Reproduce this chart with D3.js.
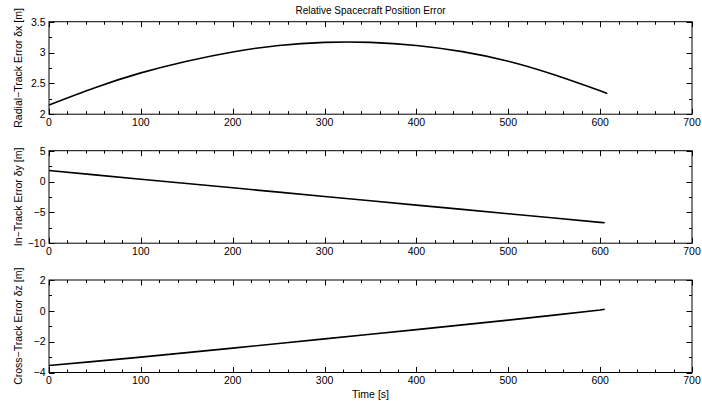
<!DOCTYPE html>
<html>
<head>
<meta charset="utf-8">
<script src="https://cdn.jsdelivr.net/npm/d3@7"></script>
<style>
  html, body { margin: 0; padding: 0; background: #fff; }
  svg { display: block; }
  text { font-family: "Liberation Sans", Arial, Helvetica, sans-serif; fill: #000; }
</style>
</head>
<body>
<svg id="chart" width="702" height="409"></svg>
<script>
// ---- data ----
const time = [0, 50, 100, 150, 200, 250, 300, 350, 400, 450, 500, 550, 600, 605];
const radialError = [2.15, 2.43, 2.67, 2.86, 3.01, 3.115, 3.165, 3.165, 3.115, 3.015, 2.86, 2.64, 2.38, 2.35];
const inTrackError = [1.78, 1.08, 0.38, -0.32, -1.02, -1.72, -2.42, -3.12, -3.82, -4.52, -5.22, -5.92, -6.62, -6.69];
const crossTrackError = [-3.55, -3.28, -3.00, -2.71, -2.42, -2.12, -1.82, -1.52, -1.22, -0.91, -0.60, -0.28, 0.05, 0.10];

const titleText = "Relative Spacecraft Position Error";
const xLabelText = "Time [s]";
const yLabels = ["Radial\u2212Track Error \u03b4x [m]", "In\u2212Track Error \u03b4y [m]", "Cross\u2212Track Error \u03b4z [m]"];
const yDomains = [[2, 3.5], [-10, 5], [-4, 2]];
const yMajorSteps = [0.5, 5, 2];
const yMinorSteps = [0.25, 2.5, 1];
const xDomain = [0, 700];
const xMajorTicks = [0, 100, 200, 300, 400, 500, 600, 700];
const xMinorStep = 20;

// ---- layout ----
const svg = d3.select("#chart");
const left = 49, right = 692;
const panelTops = [21.7, 150.7, 280];
const panelH = 92.5;
const majorLen = 5.5, minorLen = 3;
const fontSize = 10.5;

const x = d3.scaleLinear().domain(xDomain).range([left, right]);
const seriesList = [radialError, inTrackError, crossTrackError];

function rng(a, b, step) {
  const out = [];
  const n = Math.round((b - a) / step);
  for (let i = 0; i <= n; i++) out.push(+(a + i * step).toFixed(6));
  return out;
}
const fmt = v => (v < 0 ? "\u2212" : "") + Math.abs(v).toString();

seriesList.forEach((vals, i) => {
  const top = panelTops[i], bottom = top + panelH;
  const y = d3.scaleLinear().domain(yDomains[i]).range([bottom, top]);
  const g = svg.append("g");

  const xMinor = rng(xDomain[0], xDomain[1], xMinorStep);
  const yMajor = rng(yDomains[i][0], yDomains[i][1], yMajorSteps[i]);
  const yMinor = rng(yDomains[i][0], yDomains[i][1], yMinorSteps[i]);

  const tickG = g.append("g").attr("stroke", "#000").attr("stroke-width", 1);
  xMinor.forEach(t => {
    const len = xMajorTicks.includes(t) ? majorLen : minorLen;
    const px = Math.round(x(t)) + 0.5;
    tickG.append("line").attr("x1", px).attr("x2", px).attr("y1", bottom).attr("y2", bottom - len);
    tickG.append("line").attr("x1", px).attr("x2", px).attr("y1", top).attr("y2", top + len);
  });
  yMinor.forEach(v => {
    const len = yMajor.some(m => Math.abs(m - v) < 1e-9) ? majorLen : minorLen;
    const py = Math.round(y(v)) + 0.5;
    tickG.append("line").attr("x1", left).attr("x2", left + len).attr("y1", py).attr("y2", py);
    tickG.append("line").attr("x1", right).attr("x2", right - len).attr("y1", py).attr("y2", py);
  });

  g.append("rect")
    .attr("x", left).attr("y", top)
    .attr("width", right - left).attr("height", panelH)
    .attr("fill", "none").attr("stroke", "#000").attr("stroke-width", 1);

  g.append("g").selectAll("text").data(xMajorTicks).join("text")
    .attr("x", d => x(d)).attr("y", bottom + 11.5)
    .attr("text-anchor", "middle").attr("font-size", fontSize)
    .text(d => d);

  g.append("g").selectAll("text").data(yMajor).join("text")
    .attr("x", left - 3.5).attr("y", d => y(d) + 3.8)
    .attr("text-anchor", "end").attr("font-size", fontSize)
    .text(d => fmt(d));

  g.append("text")
    .attr("transform", `translate(22,${(top + bottom) / 2}) rotate(-90)`)
    .attr("text-anchor", "middle").attr("font-size", fontSize)
    .text(yLabels[i]);

  const line = d3.line()
    .x((d, j) => x(time[j]))
    .y(d => y(d))
    .curve(i === 0 ? d3.curveNatural : d3.curveLinear);
  g.append("path").datum(vals)
    .attr("d", line)
    .attr("fill", "none").attr("stroke", "#000").attr("stroke-width", 1.6);
});

svg.append("text")
  .attr("x", (left + right) / 2).attr("y", 14)
  .attr("text-anchor", "middle").attr("font-size", 10)
  .text(titleText);

svg.append("text")
  .attr("x", (left + right) / 2).attr("y", panelTops[2] + panelH + 25)
  .attr("text-anchor", "middle").attr("font-size", fontSize)
  .text(xLabelText);
</script>
</body>
</html>
